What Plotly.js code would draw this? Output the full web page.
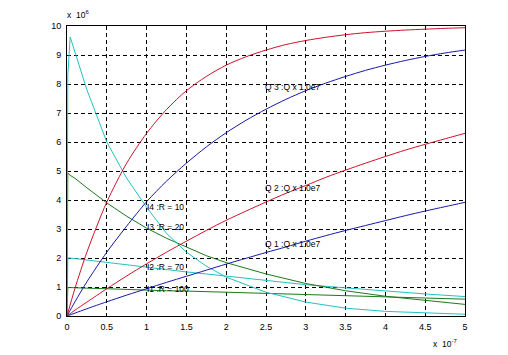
<!DOCTYPE html>
<html>
<head>
<meta charset="utf-8">
<script src="https://cdn.plot.ly/plotly-3.0.1.min.js"></script>
<style>html,body{margin:0;padding:0;background:#fff;}#chart{width:508px;height:355px;}</style>
</head>
<body>
<div id="chart"></div>
<script>
// time in units of 1e-7, values in units of 1e6
const tQ = [0, 0.1, 0.25, 0.5, 0.75, 1, 1.25, 1.5, 1.75, 2, 2.25, 2.5, 2.75, 3, 3.25, 3.5, 3.75, 4, 4.25, 4.5, 4.75, 5];
const q3Red  = [0, 0.95, 2.2, 3.93, 5.27, 6.3, 7.12, 7.77, 8.26, 8.65, 8.94, 9.17, 9.36, 9.5, 9.61, 9.7, 9.77, 9.82, 9.86, 9.89, 9.92, 9.94];
const q3Blue = [0, 0.49, 1.18, 2.2, 3.1, 3.94, 4.65, 5.27, 5.83, 6.32, 6.75, 7.13, 7.47, 7.77, 8.03, 8.26, 8.47, 8.65, 8.81, 8.95, 9.07, 9.17];
const q2Red  = [0, 0.2, 0.48, 0.94, 1.38, 1.8, 2.2, 2.58, 2.95, 3.3, 3.62, 3.93, 4.23, 4.5, 4.78, 5.03, 5.27, 5.5, 5.72, 5.92, 6.11, 6.3];
const q1Blue = [0, 0.1, 0.25, 0.49, 0.72, 0.94, 1.16, 1.37, 1.58, 1.79, 1.99, 2.19, 2.38, 2.58, 2.77, 2.95, 3.12, 3.29, 3.46, 3.62, 3.77, 3.92];

const tI = [0, 0.01, 0.04, 0.1, 0.25, 0.5, 0.75, 1, 1.25, 1.5, 1.75, 2, 2.5, 3, 3.5, 4, 4.5, 5];
const i4R10  = [0, 8.3, 9.62, 9.1, 7.8, 6.0, 4.75, 3.75, 2.85, 2.2, 1.72, 1.34, 0.82, 0.48, 0.27, 0.16, 0.1, 0.06];
const i3R20  = [0, 4.93, 4.85, 4.75, 4.42, 3.9, 3.44, 3.03, 2.68, 2.38, 2.08, 1.84, 1.45, 1.12, 0.87, 0.68, 0.53, 0.4];
const i2R70  = [0, 2.0, 2.0, 1.98, 1.92, 1.85, 1.76, 1.68, 1.6, 1.52, 1.45, 1.38, 1.22, 1.08, 0.97, 0.86, 0.76, 0.67];
const i1R100 = [0, 0.98, 0.98, 0.97, 0.96, 0.94, 0.91, 0.89, 0.87, 0.86, 0.84, 0.82, 0.78, 0.74, 0.7, 0.66, 0.62, 0.58];

const xTicks = [0, 0.5, 1, 1.5, 2, 2.5, 3, 3.5, 4, 4.5, 5];
const xTickText = ['0', '0.5', '1', '1.5', '2', '2.5', '3', '3.5', '4', '4.5', '5'];
const yTicks = [0, 1, 2, 3, 4, 5, 6, 7, 8, 9, 10];

const labels = [
  {text: 'Q 3 :Q x 1.0e7', x: 2.46, y: 7.9},
  {text: 'Q 2 :Q x 1.0e7', x: 2.46, y: 4.41},
  {text: 'Q 1 :Q x 1.0e7', x: 2.46, y: 2.48},
  {text: 'I4 :R = 10', x: 0.98, y: 3.76},
  {text: 'I3 :R = 20', x: 0.98, y: 3.07},
  {text: 'I2 :R = 70', x: 0.98, y: 1.69},
  {text: 'I1 :R = 100', x: 0.98, y: 0.93}
];

const RED = '#d0102a', BLUE = '#1818a8', CYAN = '#22c2c2', GREEN = '#1a7a1a';
function tr(x, y, c, spline) {
  return {x: x, y: y, mode: 'lines', type: 'scatter', hoverinfo: 'skip',
          line: {color: c, width: 1, shape: spline ? 'spline' : 'linear', smoothing: 0.8}};
}
const data = [
  tr(tI, i1R100, GREEN), tr(tI, i2R70, CYAN), tr(tI, i3R20, GREEN), tr(tI, i4R10, CYAN),
  tr(tQ, q1Blue, BLUE, true), tr(tQ, q2Red, RED, true), tr(tQ, q3Blue, BLUE, true), tr(tQ, q3Red, RED, true)
];

const font = {family: 'Liberation Sans, Arial, sans-serif', size: 9, color: '#000'};
const annotations = labels.map(l => ({
  text: l.text, x: l.x, y: l.y, xref: 'x', yref: 'y', showarrow: false,
  xanchor: 'left', yanchor: 'middle', font: {family: font.family, size: 8.5, color: '#000'}
}));
annotations.push({text: 'x  10<sup>6</sup>', xref: 'paper', yref: 'paper', x: -0.005, y: 1.0,
  xanchor: 'left', yanchor: 'bottom', yshift: 4, showarrow: false, font: {family: font.family, size: 8.5, color: '#000'}});
annotations.push({text: 'x  10<sup>-7</sup>', xref: 'paper', yref: 'paper', x: 0.915, y: 0,
  xanchor: 'left', yanchor: 'top', yshift: -20, showarrow: false, font: {family: font.family, size: 8.5, color: '#000'}});

const layout = {
  width: 508, height: 355,
  margin: {l: 67, r: 43, t: 26, b: 39, pad: 0},
  paper_bgcolor: '#fff', plot_bgcolor: '#fff',
  showlegend: false,
  font: font,
  xaxis: {range: [0, 5], tickvals: xTicks, ticktext: xTickText, showgrid: true,
    gridcolor: '#000', gridwidth: 1, griddash: '4px,3px', zeroline: false,
    showline: true, mirror: true, linecolor: '#000', linewidth: 1, ticks: '', tickfont: font, ticklabelstandoff: 2},
  yaxis: {range: [0, 10], tickvals: yTicks, showgrid: true,
    gridcolor: '#000', gridwidth: 1, griddash: '4px,3px', zeroline: false,
    showline: true, mirror: true, linecolor: '#000', linewidth: 1, ticks: '', tickfont: font, ticklabelstandoff: 3},
  annotations: annotations
};
Plotly.newPlot('chart', data, layout, {displayModeBar: false, staticPlot: true});
</script>
</body>
</html>
